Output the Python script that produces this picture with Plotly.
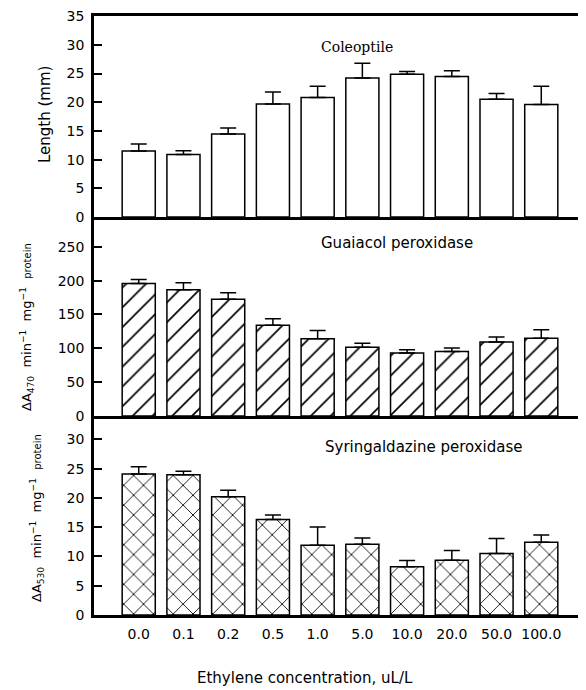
import plotly.graph_objects as go

# ---------------- data ----------------
concentrations = ["0.0", "0.1", "0.2", "0.5", "1.0", "5.0", "10.0", "20.0", "50.0", "100.0"]

length_mm = [11.5, 10.9, 14.45, 19.7, 20.8, 24.2, 24.85, 24.5, 20.5, 19.6]
length_err = [1.2, 0.65, 1.05, 2.1, 2.0, 2.6, 0.5, 1.0, 1.0, 3.2]

guaiacol = [195.6, 186.7, 172.5, 134.0, 114.0, 101.7, 93.0, 95.4, 109.2, 114.8]
guaiacol_err = [5.9, 10.3, 9.5, 9.5, 12.3, 5.9, 4.9, 5.0, 7.4, 12.8]

syring = [24.1, 23.95, 20.2, 16.3, 11.9, 12.1, 8.25, 9.35, 10.5, 12.45]
syring_err = [1.25, 0.6, 1.1, 0.8, 3.15, 1.05, 1.05, 1.65, 2.55, 1.2]

panel_titles = ["Coleoptile", "Guaiacol peroxidase", "Syringaldazine peroxidase"]
x_title = "Ethylene concentration, uL/L"

# ---------------- layout geometry ----------------
# the page body has an 8px margin, so the figure is offset by (8, 8)
OFF = 8
W, H = 586 - OFF, 690 - OFF
PLOT_L, PLOT_R, PLOT_T, PLOT_B = 94, 586, 16, 615   # page pixel coords
ML, MR, MT, MB = PLOT_L - OFF, 586 - PLOT_R, PLOT_T - OFF, 690 - PLOT_B
PW, PH = PLOT_R - PLOT_L, PLOT_B - PLOT_T


def px(x):
    return (x - PLOT_L) / PW


def py(y):
    return (PLOT_B - y) / PH


TICKFONT = dict(family="DejaVu Sans", size=14, color="black")

fig = go.Figure()


def add_panel(vals, errs, xa, ya, pattern):
    fig.add_trace(go.Bar(
        x=concentrations, y=vals, xaxis=xa, yaxis=ya,
        width=0.74,
        marker=dict(color="white", line=dict(color="black", width=1.5),
                    pattern=pattern),
        error_y=dict(type="data", symmetric=False, array=errs,
                     arrayminus=[0] * len(errs), color="black",
                     thickness=1.5, width=8),
        showlegend=False,
    ))


add_panel(length_mm, length_err, "x", "y", dict(shape=""))
add_panel(guaiacol, guaiacol_err, "x2", "y2",
          dict(shape="/", fgcolor="black", bgcolor="white", size=14,
               solidity=0.12, fgopacity=1))
add_panel(syring, syring_err, "x3", "y3",
          dict(shape="x", fgcolor="black", bgcolor="white", size=14,
               solidity=0.12, fgopacity=1))

# domains (page pixel boundaries top / 217 / 416 / 615)
d_top = [py(217), 1.0]
d_mid = [py(416), py(217)]
d_bot = [0.0, py(416)]

xcommon = dict(range=[-1, 10], showline=True, linecolor="black", linewidth=2.5,
               ticks="", showgrid=False, zeroline=False, automargin=False,
               categoryorder="array", categoryarray=concentrations)
ycommon = dict(showline=True, linecolor="black", linewidth=2.5, mirror=False,
               ticks="inside", ticklen=8, tickwidth=1.5, tickcolor="black",
               showgrid=False, zeroline=False, tickfont=TICKFONT,
               ticklabelstandoff=4, automargin=False,
               ticklabeloverflow="allow")

fig.update_layout(
    width=W, height=H,
    margin=dict(l=ML, r=MR, t=MT, b=MB),
    paper_bgcolor="white", plot_bgcolor="white",
    bargap=0.26,
    xaxis=dict(**xcommon, anchor="y", domain=[0, 1], mirror=True,
               showticklabels=False),
    xaxis2=dict(**xcommon, anchor="y2", domain=[0, 1], mirror=False,
                showticklabels=False),
    xaxis3=dict(**xcommon, anchor="y3", domain=[0, 1], mirror=False,
                showticklabels=True, tickfont=TICKFONT, ticklabelstandoff=4),
    yaxis=dict(**ycommon, anchor="x", domain=d_top, range=[0, 35.02], dtick=5),
    yaxis2=dict(**ycommon, anchor="x2", domain=d_mid, range=[0, 294], dtick=50),
    yaxis3=dict(**ycommon, anchor="x3", domain=d_bot, range=[0, 34], dtick=5),
)

ann = []
# panel titles
ann.append(dict(text=panel_titles[0], x=px(357), y=py(47),
                font=dict(family="DejaVu Serif", size=14, color="black")))
ann.append(dict(text=panel_titles[1], x=px(397), y=py(243),
                font=dict(family="DejaVu Sans", size=15, color="black")))
ann.append(dict(text=panel_titles[2], x=px(423), y=py(447),
                font=dict(family="DejaVu Sans", size=15, color="black")))
# x-axis title
ann.append(dict(text=x_title, x=px(305), y=py(678),
                font=dict(family="DejaVu Sans", size=15, color="black")))
# y-axis titles
ann.append(dict(text="Length (mm)", x=px(45), y=py(115), textangle=-90,
                font=dict(family="DejaVu Sans", size=15, color="black")))
ann.append(dict(text="ΔA<sub>470</sub>  min<sup>−1</sup>  mg<sup>−1</sup>  "
                     "<span style='font-size:10px'>protein</span>",
                x=px(27), y=py(327), textangle=-90,
                font=dict(family="DejaVu Sans", size=13, color="black")))
ann.append(dict(text="ΔA<sub>530</sub>  min<sup>−1</sup>  mg<sup>−1</sup>  "
                     "<span style='font-size:10px'>protein</span>",
                x=px(37), y=py(518), textangle=-90,
                font=dict(family="DejaVu Sans", size=13, color="black")))

for a in ann:
    a.update(xref="paper", yref="paper", showarrow=False,
             xanchor="center", yanchor="middle")
fig.update_layout(annotations=ann)

fig.write_html("out.html")
